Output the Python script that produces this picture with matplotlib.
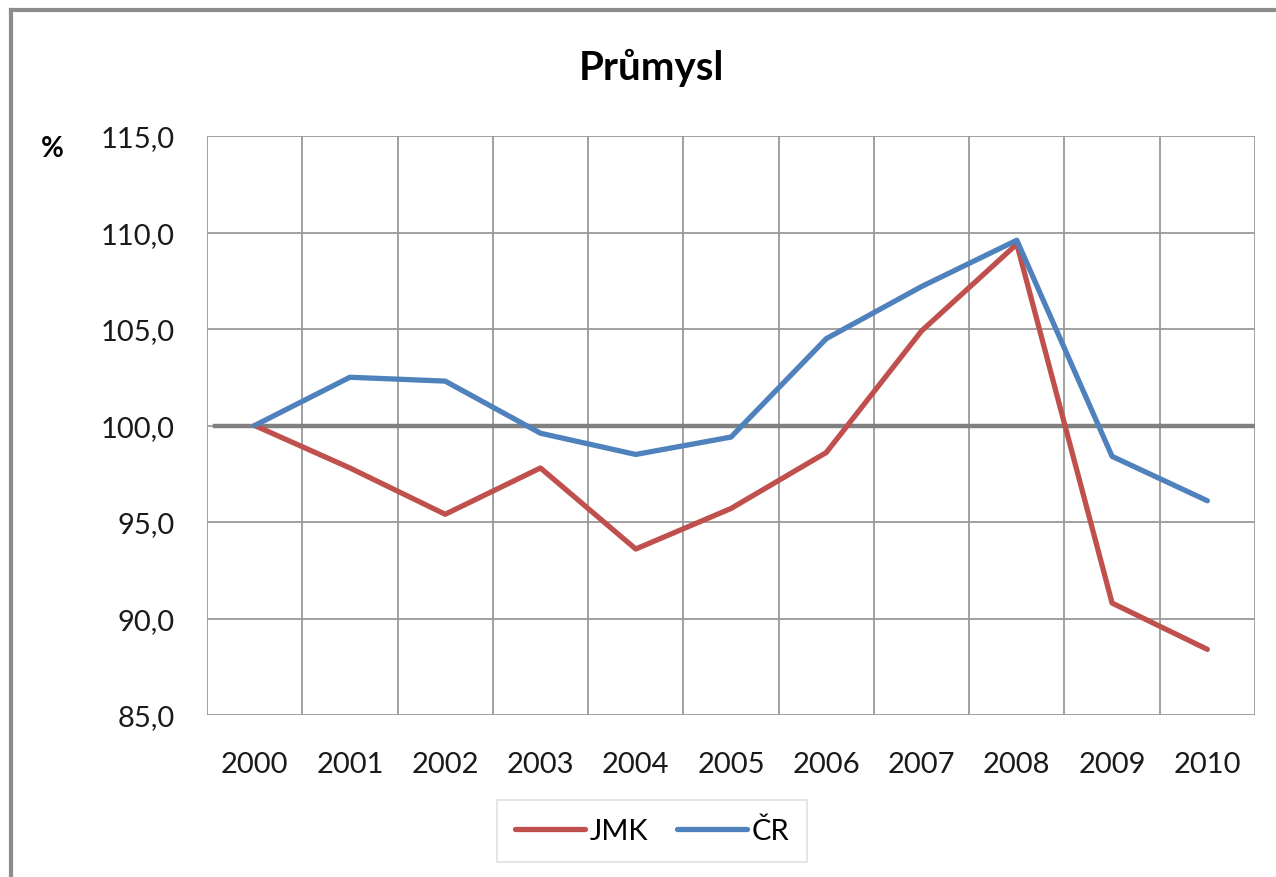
import matplotlib.pyplot as plt
from matplotlib.lines import Line2D
import numpy as np

years = ['2000', '2001', '2002', '2003', '2004', '2005', '2006', '2007', '2008', '2009', '2010']
jmk = [100.0, 97.8, 95.4, 97.8, 93.6, 95.7, 98.6, 104.9, 109.4, 90.8, 88.4]
cr = [100.0, 102.5, 102.3, 99.6, 98.5, 99.4, 104.5, 107.2, 109.6, 98.4, 96.1]
yticks = [85, 90, 95, 100, 105, 110, 115]

plt.rcParams['font.family'] = ['Lato', 'DejaVu Sans']

fig = plt.figure(figsize=(12.76, 8.78), dpi=100)
ax = fig.add_axes([207 / 1276, 1 - 716 / 878, (1255 - 207) / 1276, (716 - 137) / 878])

x = np.arange(len(years))
ax.set_xlim(-0.5, len(years) - 0.5)
ax.set_ylim(85, 115)

grid_c = '#9a9a9a'
for xv in np.arange(-0.5, len(years), 1.0):
    ax.axvline(xv, color=grid_c, lw=1.3, zorder=1)
for yv in yticks:
    ax.axhline(yv, color=grid_c, lw=1.3, zorder=1)
ax.axhline(100, xmin=0.008, color='#808080', lw=3.2, zorder=2)

ax.plot(x, jmk, color='#C0504D', lw=3.8, solid_capstyle='round', solid_joinstyle='round', zorder=3)
ax.plot(x, cr, color='#4F81BD', lw=3.8, solid_capstyle='round', solid_joinstyle='round', zorder=3)

for s in ax.spines.values():
    s.set_visible(False)
ax.set_xticks(x)
ax.set_xticklabels(years)
ax.set_yticks(yticks)
ax.set_yticklabels([f'{v:.1f}'.replace('.', ',') for v in yticks])
ax.tick_params(length=0, labelsize=21, colors='#1a1a1a')
ax.tick_params(axis='y', pad=23)
ax.tick_params(axis='x', pad=26)

fig.text(651 / 1276, 1 - 68 / 878, 'Průmysl', ha='center', va='center', fontsize=29, fontweight='bold')
fig.text(52 / 1276, 1 - 149 / 878, '%', ha='center', va='center', fontsize=20, fontweight='bold')

handles = [Line2D([], [], color='#C0504D', lw=3.8, solid_capstyle='round'),
           Line2D([], [], color='#4F81BD', lw=3.8, solid_capstyle='round')]
leg = fig.legend(handles, ['JMK', 'ČR'], loc='center', bbox_to_anchor=(652 / 1276, 1 - 832 / 878),
                 ncol=2, fontsize=21, frameon=True, fancybox=False, handlelength=2.4,
                 handletextpad=0.15, columnspacing=1.0, borderpad=0.6)
leg.get_frame().set_edgecolor('#d9d9d9')
leg.get_frame().set_linewidth(1.2)

fig.add_artist(Line2D([11 / 1276, 1], [1 - 11 / 878, 1 - 11 / 878], color='#8c8c8c', lw=3, transform=fig.transFigure))
fig.add_artist(Line2D([11 / 1276, 11 / 1276], [0, 1 - 11 / 878], color='#8c8c8c', lw=3, transform=fig.transFigure))

fig.savefig('out.png', dpi=100, facecolor='white')
